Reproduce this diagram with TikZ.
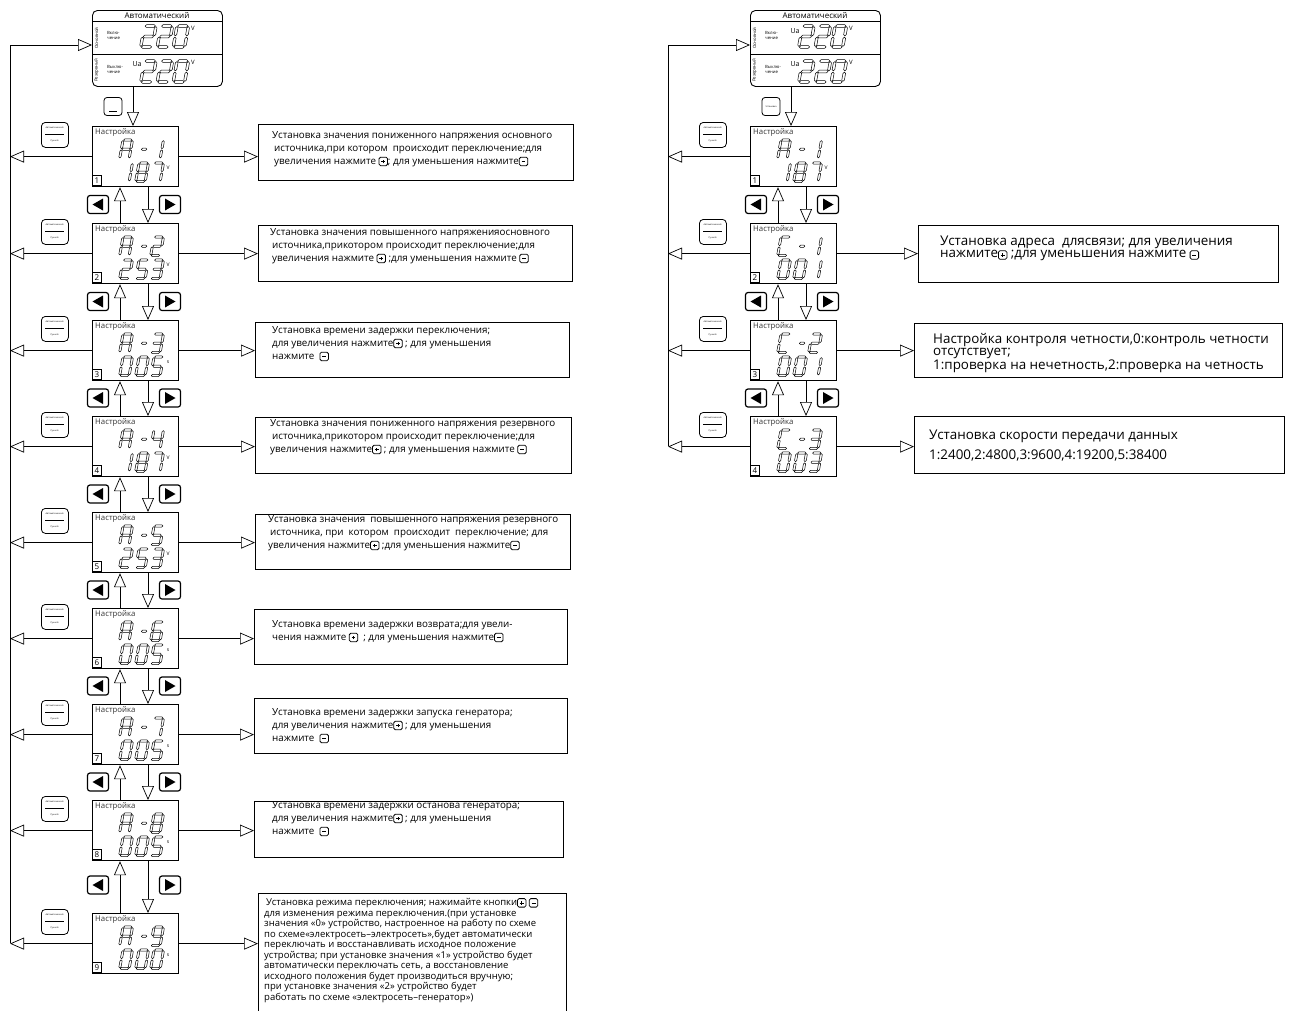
\documentclass[tikz,border=0pt]{standalone}
\usepackage{fontspec}
\setmainfont{Open Sans}
\usetikzlibrary{arrows.meta}

\def\sgW{9.5}\def\sgH{18.5}\def\sgT{1.1}\def\sgG{0.6}
\newcommand\hsg[3]{\draw[segline] (#1,#3) -- (#1+\sgT,#3-\sgT) -- (#2-\sgT,#3-\sgT) -- (#2,#3) -- (#2-\sgT,#3+\sgT) -- (#1+\sgT,#3+\sgT) -- cycle;}
\newcommand\vsg[3]{\draw[segline] (#1,#2) -- (#1+\sgT,#2+\sgT) -- (#1+\sgT,#3-\sgT) -- (#1,#3) -- (#1-\sgT,#3-\sgT) -- (#1-\sgT,#2+\sgT) -- cycle;}
\pgfkeys{
 /sseg/a/.code={\hsg{\sgG}{\sgW-\sgG}{0}},
 /sseg/b/.code={\vsg{\sgW}{\sgG}{\sgH/2-\sgG}},
 /sseg/c/.code={\vsg{\sgW}{\sgH/2+\sgG}{\sgH-\sgG}},
 /sseg/d/.code={\hsg{\sgG}{\sgW-\sgG}{\sgH}},
 /sseg/e/.code={\vsg{0}{\sgH/2+\sgG}{\sgH-\sgG}},
 /sseg/f/.code={\vsg{0}{\sgG}{\sgH/2-\sgG}},
 /sseg/g/.code={\hsg{\sgG}{\sgW-\sgG}{\sgH/2}},
 /sseg/m/.code={\hsg{2}{\sgW-2}{\sgH/2}},
 /sseg/d0/.style={/sseg/a,/sseg/b,/sseg/c,/sseg/d,/sseg/e,/sseg/f},
 /sseg/d1/.style={/sseg/b,/sseg/c},
 /sseg/d2/.style={/sseg/a,/sseg/b,/sseg/g,/sseg/e,/sseg/d},
 /sseg/d3/.style={/sseg/a,/sseg/b,/sseg/g,/sseg/c,/sseg/d},
 /sseg/d4/.style={/sseg/f,/sseg/g,/sseg/b,/sseg/c},
 /sseg/d5/.style={/sseg/a,/sseg/f,/sseg/g,/sseg/c,/sseg/d},
 /sseg/d6/.style={/sseg/a,/sseg/f,/sseg/g,/sseg/e,/sseg/c,/sseg/d},
 /sseg/d7/.style={/sseg/a,/sseg/b,/sseg/c},
 /sseg/d8/.style={/sseg/a,/sseg/b,/sseg/c,/sseg/d,/sseg/e,/sseg/f,/sseg/g},
 /sseg/d9/.style={/sseg/a,/sseg/b,/sseg/c,/sseg/d,/sseg/f,/sseg/g},
 /sseg/dA/.style={/sseg/a,/sseg/b,/sseg/c,/sseg/e,/sseg/f,/sseg/g},
 /sseg/dC/.style={/sseg/a,/sseg/d,/sseg/e,/sseg/f},
 /sseg/dm/.style={/sseg/m},
}
\newcommand\sdig[3]{\begin{scope}[shift={(#1,#2)},xslant=0.18]\pgfkeys{/sseg/d#3}\end{scope}}

\newcommand\bplus{\tikz[x=1pt,y=1pt,baseline=1.5pt]{\draw[rounded corners=1.5pt,line width=0.8pt] (0,0) rectangle (8.5,8.5); \draw[line width=0.7pt] (2.3,4.25)--(6.2,4.25) (4.25,2.3)--(4.25,6.2);}}
\newcommand\bminus{\tikz[x=1pt,y=1pt,baseline=1.5pt]{\draw[rounded corners=1.5pt,line width=0.8pt] (0,0) rectangle (8.5,8.5); \draw[line width=0.7pt] (2.3,4.25)--(6.2,4.25);}}

\tikzset{
 segline/.style={line width=0.5pt, line join=round},
 conn/.style={line width=0.7pt},
 oarrow/.style={line width=0.7pt, -{Triangle[open,length=14pt,width=12pt]}},
 panelbox/.style={draw, line width=1.2pt, minimum width=86pt, minimum height=60pt, inner sep=0pt},
 dispbox/.style={draw, line width=0.9pt, rounded corners=5pt, minimum width=130pt, minimum height=76pt, inner sep=0pt},
 plabel/.style={font=\fontsize{7.8}{8}\selectfont, text=black!80, inner sep=0pt},
 numbox/.style={draw, line width=0.8pt, minimum width=9pt, minimum height=10pt, inner sep=0pt, font=\fontsize{8}{8}\selectfont},
 unitlab/.style={font=\fontsize{5}{5}\selectfont, inner sep=0pt},
 navbtn/.style={draw, line width=1.2pt, rounded corners=2.5pt, minimum width=21pt, minimum height=18pt, inner sep=0pt},
 sidebtn/.style={draw, line width=0.8pt, rounded corners=4pt, minimum width=27pt, minimum height=25pt, inner sep=0pt},
 smallbtn/.style={draw, line width=0.8pt, rounded corners=3pt, minimum width=18pt, minimum height=18pt, inner sep=0pt},
 tbox/.style={draw, line width=0.8pt, inner sep=0pt, anchor=north west},
 ltext/.style={anchor=north west, inner sep=0pt, align=left, font=\fontsize{9.8}{13}\selectfont},
 rtext/.style={anchor=north west, inner sep=0pt, align=left, font=\fontsize{13.4}{12}\selectfont},
 tinytxt/.style={inner sep=0pt, font=\fontsize{2.2}{2.4}\selectfont},
 vtxt/.style={inner sep=0pt, anchor=west, align=left, font=\fontsize{4.3}{5}\selectfont},
 uatxt/.style={inner sep=0pt, font=\fontsize{7}{7}\selectfont},
 vunit/.style={inner sep=0pt, font=\fontsize{6}{6}\selectfont},
}

\newcommand\topdisp[3]{%
 \node[dispbox, anchor=north west] (#1) at (#2,10) {};
 \draw[line width=0.8pt] (#2,21) -- (#2+130,21);
 \draw[line width=0.8pt] (#2,54) -- (#2+130,54);
 \node[font=\fontsize{8}{8}\selectfont, inner sep=0pt] (#1h) at (#2+65,15.5) {Автоматический};
 \node[rotate=90, font=\fontsize{4.3}{4.3}\selectfont, inner sep=0pt] (#1sa) at (#2+4.5,38) {Основной};
 \node[rotate=90, font=\fontsize{4.3}{4.3}\selectfont, inner sep=0pt] (#1sb) at (#2+4.5,70) {Резервный};
 \node[vtxt] (#1va) at (#2+15,35) {Вклю-\\чение};
 \node[vtxt] (#1vb) at (#2+15,69) {Выклю-\\чение};
 \node[uatxt] (#1ua) at (#2+45,31) {#3};
 \node[uatxt] (#1ub) at (#2+45,64) {Ua};
 \node[vunit] (#1wa) at (#2+101,28) {V};
 \node[vunit] (#1wb) at (#2+101,62) {V};
 {\def\sgW{11.5}\def\sgH{21}\def\sgT{1.3}%
 \sdig{#2+52.5}{26}{2}\sdig{#2+69}{26}{2}\sdig{#2+85}{26}{0}%
 \sdig{#2+52.5}{61}{2}\sdig{#2+69}{61}{2}\sdig{#2+85}{61}{0}}%
}

\newcommand\panel[5]{% name, X, T, num, unit
 \node[panelbox, anchor=north west] (#1) at (#2,#3) {};
 \node[plabel, anchor=west] (#1lab) at (#2+3,#3+6.5) {Настройка};
 \node[numbox, anchor=south west] (#1num) at (#2,#3+60) {#4};
 \node[unitlab] (#1unit) at (#2+76,#3+42) {#5};
}
\newcommand\prow[7]{% X, T, c1, c3, d1, d2, d3
 \sdig{#1+31}{#2+14}{#3}\sdig{#1+49}{#2+14}{m}\sdig{#1+62}{#2+14}{#4}%
 \sdig{#1+31}{#2+37}{#5}\sdig{#1+47}{#2+37}{#6}\sdig{#1+62}{#2+37}{#7}%
}
\newcommand\sidebutton[3]{% name, x left, y top
 \node[sidebtn, anchor=north west] (#1) at (#2,#3) {};
 \node[tinytxt] (#1a) at (#2+13.5,#3+6) {Автоматический};
 \draw[line width=0.6pt] (#2+4,#3+12) -- (#2+23,#3+12);
 \node[tinytxt] (#1b) at (#2+13.5,#3+18.5) {Ручной};
}
\newcommand\navL[3]{\node[navbtn] (#1) at (#2,#3) {}; \fill (#2-5.5,#3) -- (#2+5,#3-6) -- (#2+5,#3+6) -- cycle;}
\newcommand\navR[3]{\node[navbtn] (#1) at (#2,#3) {}; \fill (#2+5.5,#3) -- (#2-5,#3-6) -- (#2-5,#3+6) -- cycle;}
\newcommand\updown[4]{% upper panel, lower panel, X, midy
 \draw[oarrow] ([xshift=28pt]#2.north west) -- ([xshift=28pt]#1.south west);
 \draw[oarrow] ([xshift=56pt]#1.south west) -- ([xshift=56pt]#2.north west);
 \navL{#1nl}{#3+6}{#4}
 \navR{#1nr}{#3+78}{#4}
}

\begin{document}
\begin{tikzpicture}[x=1pt,y=-1pt]
\fill[white] (0,0) rectangle (1289,1010);
\useasboundingbox (0,0) rectangle (1289,1010);

% ================= LEFT COLUMN =================
\topdisp{dL}{92}{}
\node[smallbtn] (tbL) at (113,106.5) {};
\draw[line width=0.5pt] (109,111) -- (117,111);

\panel{p1}{92}{126}{1}{V}\prow{92}{126}{A}{1}{1}{8}{7}
\panel{p2}{92}{223}{2}{V}\prow{92}{223}{A}{2}{2}{5}{3}
\panel{p3}{92}{320}{3}{s}\prow{92}{320}{A}{3}{0}{0}{5}
\panel{p4}{92}{416}{4}{V}\prow{92}{416}{A}{4}{1}{8}{7}
\panel{p5}{92}{512}{5}{V}\prow{92}{512}{A}{5}{2}{5}{3}
\panel{p6}{92}{608}{6}{s}\prow{92}{608}{A}{6}{0}{0}{5}
\panel{p7}{92}{704}{7}{s}\prow{92}{704}{A}{7}{0}{0}{5}
\panel{p8}{92}{800}{8}{s}\prow{92}{800}{A}{8}{0}{0}{5}
\panel{p9}{92}{913}{9}{s}\prow{92}{913}{A}{9}{0}{0}{0}

\draw[oarrow] ([xshift=41pt]dL.south west) -- ([xshift=41pt]p1.north west);

\updown{p1}{p2}{92}{204.5}
\updown{p2}{p3}{92}{301.5}
\updown{p3}{p4}{92}{398}
\updown{p4}{p5}{92}{494}
\updown{p5}{p6}{92}{590}
\updown{p6}{p7}{92}{686}
\updown{p7}{p8}{92}{782}
\updown{p8}{p9}{92}{885}

\sidebutton{s1}{41}{122}
\sidebutton{s2}{41}{219}
\sidebutton{s3}{41}{316}
\sidebutton{s4}{41}{412}
\sidebutton{s5}{41}{508}
\sidebutton{s6}{41}{604}
\sidebutton{s7}{41}{700}
\sidebutton{s8}{41}{796}
\sidebutton{s9}{41}{909}

\coordinate (fbLt) at (10,45);
\coordinate (fbLb) at (10,943);
\draw[conn] (fbLb) -- (fbLt);
\draw[oarrow] (fbLt) -- (dL.west |- fbLt);
\foreach \p in {p1,p2,p3,p4,p5,p6,p7,p8,p9}{
 \draw[oarrow] (\p.west) -- (\p.west -| fbLt);
}

% text boxes left
\node[tbox, minimum width=315pt, minimum height=56pt] (b1) at (258,124) {};
\node[tbox, minimum width=314pt, minimum height=56pt] (b2) at (258,225) {};
\node[tbox, minimum width=314pt, minimum height=55pt] (b3) at (255,322) {};
\node[tbox, minimum width=316pt, minimum height=56pt] (b4) at (255,417) {};
\node[tbox, minimum width=315pt, minimum height=55pt] (b5) at (255,514) {};
\node[tbox, minimum width=313pt, minimum height=55pt] (b6) at (254,609) {};
\node[tbox, minimum width=313pt, minimum height=55pt] (b7) at (254,698) {};
\node[tbox, minimum width=309pt, minimum height=56pt] (b8) at (254,801) {};
\node[tbox, minimum width=308pt, minimum height=125pt] (b9) at (258,893) {};

\draw[oarrow] (p1.east) -- (p1.east -| b1.west);
\draw[oarrow] (p2.east) -- (p2.east -| b2.west);
\draw[oarrow] (p3.east) -- (p3.east -| b3.west);
\draw[oarrow] (p4.east) -- (p4.east -| b4.west);
\draw[oarrow] (p5.east) -- (p5.east -| b5.west);
\draw[oarrow] (p6.east) -- (p6.east -| b6.west);
\draw[oarrow] (p7.east) -- (p7.east -| b7.west);
\draw[oarrow] (p8.east) -- (p8.east -| b8.west);
\draw[oarrow] (p9.east) -- (p9.east -| b9.west);

\node[ltext] (t1) at (272,131) {Установка значения пониженного напряжения основного\\
\hspace{2pt}источника,при котором\ \ происходит переключение;для\\
\hspace{2pt}увеличения нажмите \bplus; для уменьшения нажмите\bminus};
\node[ltext] (t2) at (270,228) {Установка значения повышенного напряженияосновного\\
\hspace{2pt}источника,прикотором происходит переключение;для\\
\hspace{2pt}увеличения нажмите \bplus\ ;для уменьшения нажмите \bminus};
\node[ltext] (t3) at (272,326) {Установка времени задержки переключения;\\
для увеличения нажмите\bplus\ ; для уменьшения\\
нажмите \ \bminus};
\node[ltext] (t4) at (270,419) {Установка значения пониженного напряжения резервного\\
\hspace{2pt}источника,прикотором происходит переключение;для\\
увеличения нажмите\bplus\ ; для уменьшения нажмите \bminus};
\node[ltext] (t5) at (268,515) {Установка значения\ \ повышенного напряжения\ резервного\\
\hspace{2pt}источника,\ при\ \ котором\ \ происходит\ \ переключение;\ для\\
увеличения нажмите\bplus\ ;для уменьшения нажмите\bminus};
\node[ltext] (t6) at (272,620) {Установка времени задержки возврата;для увели-\\
чения нажмите \bplus\ \ ; для уменьшения нажмите\bminus};
\node[ltext] (t7) at (272,708) {Установка времени задержки запуска генератора;\\
для увеличения нажмите\bplus\ ; для уменьшения\\
нажмите \ \bminus};
\node[ltext] (t8) at (272,801) {Установка времени задержки останова генератора;\\
для увеличения нажмите\bplus\ ; для уменьшения\\
нажмите \ \bminus};
\node[ltext, font=\fontsize{9.5}{10.5}\selectfont] (t9) at (264,898) {\hspace{2pt}Установка режима переключения; нажимайте кнопки\bplus\ \bminus\\
для изменения режима переключения.(при установке\\
значения «0» устройство, настроенное на работу по схеме\\
по схеме«электросеть–электросеть»,будет автоматически\\
переключать и восстанавливать исходное положение\\
устройства; при установке значения «1» устройство будет\\
автоматически переключать сеть, а восстановление\\
исходного положения будет производиться вручную;\\
при установке значения «2» устройство будет\\
работать по схеме «электросеть–генератор»)};

% ================= RIGHT COLUMN =================
\topdisp{dR}{750}{Ua}
\node[smallbtn] (tbR) at (771,106.5) {};
\node[tinytxt] (tbRt) at (771,106.5) {Установка};

\panel{q1}{750}{126}{1}{V}\prow{750}{126}{A}{1}{1}{8}{7}
\panel{q2}{750}{223}{2}{}\prow{750}{223}{C}{1}{0}{0}{1}
\panel{q3}{750}{320}{3}{}\prow{750}{320}{C}{2}{0}{0}{1}
\panel{q4}{750}{416}{4}{}\prow{750}{416}{C}{3}{0}{0}{3}

\draw[oarrow] ([xshift=41pt]dR.south west) -- ([xshift=41pt]q1.north west);
\updown{q1}{q2}{750}{204.5}
\updown{q2}{q3}{750}{301.5}
\updown{q3}{q4}{750}{398}

\sidebutton{r1}{699}{122}
\sidebutton{r2}{699}{219}
\sidebutton{r3}{699}{316}
\sidebutton{r4}{699}{412}

\coordinate (fbRt) at (668,45);
\coordinate (fbRb) at (668,446);
\draw[conn] (fbRb) -- (fbRt);
\draw[oarrow] (fbRt) -- (dR.west |- fbRt);
\foreach \p in {q1,q2,q3,q4}{
 \draw[oarrow] (\p.west) -- (\p.west -| fbRt);
}

\node[tbox, minimum width=360pt, minimum height=57pt] (c2) at (918,225) {};
\node[tbox, minimum width=368pt, minimum height=54pt] (c3) at (914,323) {};
\node[tbox, minimum width=370pt, minimum height=57pt] (c4) at (914,416) {};
\draw[oarrow] (q2.east) -- (q2.east -| c2.west);
\draw[oarrow] (q3.east) -- (q3.east -| c3.west);
\draw[oarrow] (q4.east) -- (q4.east -| c4.west);

\node[rtext] (u2) at (940,236) {Установка адреса\ \ длясвязи; для увеличения\\
нажмите\bplus\ ;для уменьшения нажмите \bminus};
\node[rtext] (u3) at (933,333) {Настройка контроля четности,0:контроль четности\\
отсутствует;\\
1:проверка на нечетность,2:проверка на четность};
\node[rtext, font=\fontsize{13.4}{20}\selectfont] (u4) at (929,430) {Установка скорости передачи данных\\
1:2400,2:4800,3:9600,4:19200,5:38400};
\end{tikzpicture}
\end{document}
